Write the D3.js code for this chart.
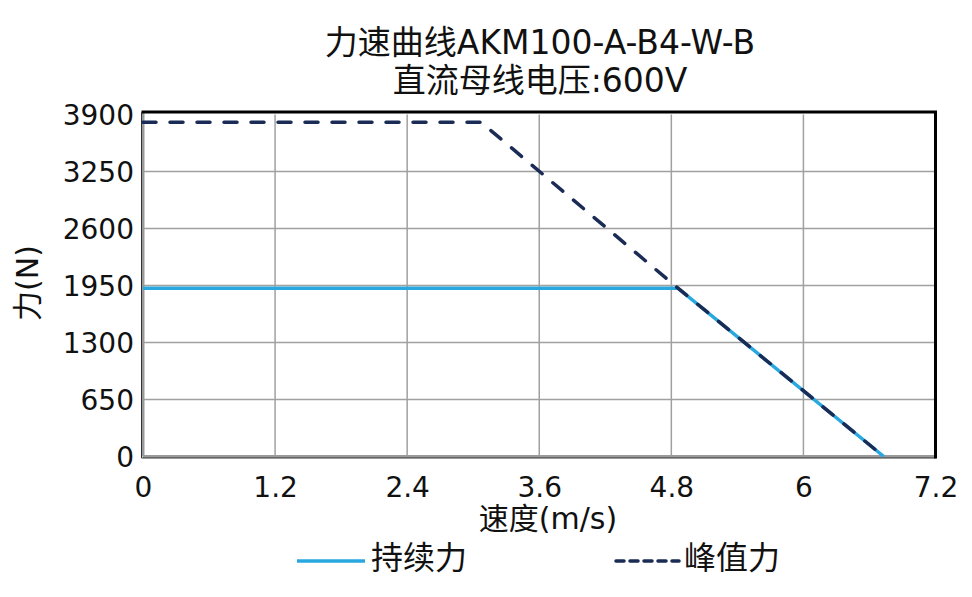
<!DOCTYPE html>
<html><head><meta charset="utf-8">
<script src="https://cdn.jsdelivr.net/npm/d3@7"></script>
<style>body{margin:0;background:#fff}svg{display:block}text{font-family:"DejaVu Sans","Noto Sans CJK SC",sans-serif;fill:#111}</style>
</head><body>
<svg id="c" width="972" height="597"></svg>
<script>
const titleLines = ["力速曲线AKM100-A-B4-W-B", "直流母线电压:600V"];
const xTicks = [0, 1.2, 2.4, 3.6, 4.8, 6, 7.2];
const yTicks = [0, 650, 1300, 1950, 2600, 3250, 3900];
const contSpeed = [0, 4.86, 6.73];
const contForce = [1920, 1920, 0];
const peakSpeed = [0, 3.07, 4.86, 6.73];
const peakForce = [3813, 3813, 1920, 0];
const seriesNames = ["持续力", "峰值力"];
const xLabel = "速度(m/s)";
const yLabel = "力(N)";

const svg = d3.select("#c");
const L = 143, R = 935.5, T = 114.5, B = 456.5;
const x = d3.scaleLinear().domain([0, 7.2]).range([L, R]);
const y = d3.scaleLinear().domain([0, 3900]).range([B, T]);

// grid
svg.append("g").selectAll("line").data(xTicks.slice(1, -1)).join("line")
  .attr("x1", d => x(d)).attr("x2", d => x(d)).attr("y1", T).attr("y2", B)
  .attr("stroke", "#a0a0a0").attr("stroke-width", 1.5);
svg.append("g").selectAll("line").data(yTicks.slice(1, -1)).join("line")
  .attr("x1", L).attr("x2", R).attr("y1", d => y(d)).attr("y2", d => y(d))
  .attr("stroke", "#a0a0a0").attr("stroke-width", 1.5);

// frame
svg.append("line").attr("x1", L).attr("x2", R).attr("y1", B).attr("y2", B).attr("stroke", "#9a9a9a").attr("stroke-width", 3);
svg.append("line").attr("x1", L).attr("x2", L).attr("y1", T - 2).attr("y2", B).attr("stroke", "#9a9a9a").attr("stroke-width", 3);
svg.append("line").attr("x1", L - 1.5).attr("x2", L - 1.5).attr("y1", T - 2).attr("y2", B + 1.5).attr("stroke", "#333").attr("stroke-width", 1);
svg.append("line").attr("x1", L - 1.5).attr("x2", R).attr("y1", B + 1.5).attr("y2", B + 1.5).attr("stroke", "#333").attr("stroke-width", 1);
svg.append("line").attr("x1", L - 1.5).attr("x2", R + 1.5).attr("y1", T - 2.5).attr("y2", T - 2.5).attr("stroke", "#000").attr("stroke-width", 3);
svg.append("line").attr("x1", R).attr("x2", R).attr("y1", T - 2.5).attr("y2", B + 2).attr("stroke", "#000").attr("stroke-width", 3);

// axes tick labels
const xAxis = d3.axisBottom(x).tickValues(xTicks).tickSize(0).tickPadding(0).tickFormat(d => String(d));
const gx = svg.append("g").attr("transform", `translate(0,${B})`).call(xAxis);
gx.select(".domain").remove();
gx.selectAll("text").attr("dy", null).attr("y", 40.5).attr("font-size", 28).attr("fill", "#111")
  .attr("font-family", "DejaVu Sans");

const yAxis = d3.axisLeft(y).tickValues(yTicks).tickSize(0).tickPadding(0).tickFormat(d => String(d));
const gy = svg.append("g").attr("transform", `translate(${L - 9},0)`).call(yAxis);
gy.select(".domain").remove();
gy.selectAll("text").attr("dy", "0.36em").attr("font-size", 28).attr("fill", "#111")
  .attr("font-family", "DejaVu Sans");

// lines
const line = d3.line().x(d => x(d[0])).y(d => y(d[1]));
svg.append("path").datum(contSpeed.map((s, i) => [s, contForce[i]]))
  .attr("d", line).attr("fill", "none").attr("stroke", "#29a8e0").attr("stroke-width", 3.5);
svg.append("path").datum(peakSpeed.map((s, i) => [s, peakForce[i]]))
  .attr("d", line).attr("fill", "none").attr("stroke", "#1a2b55").attr("stroke-width", 3.5)
  .attr("stroke-dasharray", "13,14").attr("stroke-linecap", "round");

// titles
svg.append("g").selectAll("text").data(titleLines).join("text")
  .attr("x", 540).attr("y", (d, i) => 54 + i * 38).attr("text-anchor", "middle")
  .attr("font-size", 33).text(d => d);

svg.append("text").attr("x", 548).attr("y", 529).attr("text-anchor", "middle").attr("font-size", 30).text(xLabel);
svg.append("text").attr("transform", "translate(38,283) rotate(-90)").attr("text-anchor", "middle").attr("font-size", 30).text(yLabel);

// legend
const lg = svg.append("g");
lg.append("line").attr("x1", 297).attr("x2", 365).attr("y1", 561).attr("y2", 561).attr("stroke", "#29a8e0").attr("stroke-width", 3.5);
lg.append("text").attr("x", 371).attr("y", 569).attr("font-size", 32).text(seriesNames[0]);
lg.append("line").attr("x1", 616).attr("x2", 679).attr("y1", 561).attr("y2", 561).attr("stroke", "#1a2b55").attr("stroke-width", 3.5).attr("stroke-dasharray", "8,6").attr("stroke-linecap", "round");
lg.append("text").attr("x", 684).attr("y", 569).attr("font-size", 32).text(seriesNames[1]);
</script>
</body></html>
